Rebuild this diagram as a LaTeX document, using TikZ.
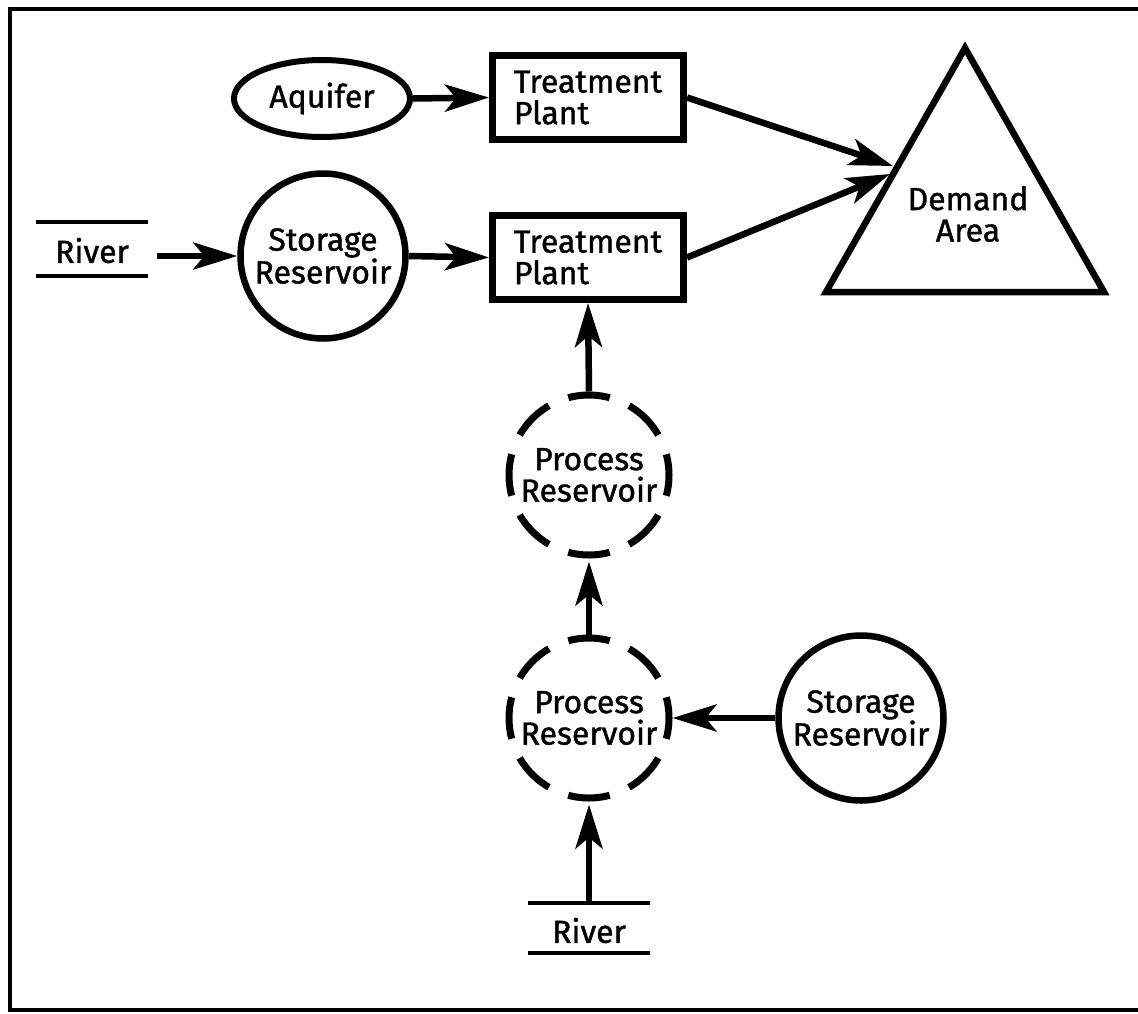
\documentclass[tikz,border=0pt]{standalone}
\usepackage{fontspec}
\setmainfont{Fira Sans}[FakeBold=1.2]
\usetikzlibrary{arrows.meta,shapes.geometric}

\begin{document}
\begin{tikzpicture}[x=1pt,y=-1pt,
  lbl/.style={font=\fontsize{32}{31.5}\selectfont, inner sep=0pt},
  flow/.style={line width=6.5pt, -{Stealth[length=44pt,width=27pt,inset=11pt]}},
  plant/.style={lbl, draw, line width=7pt, rectangle, minimum width=191pt, minimum height=84pt, align=left},
  store/.style={lbl, draw, line width=6.5pt, circle, minimum size=165pt, align=center},
  process/.style={lbl, circle, draw, line width=7pt, minimum size=160pt, align=center,
    dash pattern=on 41.9pt off 20.93pt, dash phase=20.95pt},
  source/.style={lbl, draw, ellipse, line width=6pt, minimum width=176pt, minimum height=77pt},
  river/.style={lbl, rectangle},
  riverline/.style={line width=4pt},
  frame/.style={line width=4pt},
]
\useasboundingbox (0,0) rectangle (1138,1013);

% outer frame (open on the right)
\coordinate (f1) at (1150,9);
\coordinate (f2) at (10,9);
\coordinate (f3) at (10,1010);
\coordinate (f4) at (1150,1010);
\draw[frame] (f1) -- (f2) -- (f3) -- (f4);

% supply and treatment
\node[source] (aq) at (322,98.5) {Aquifer};
\node[plant] (tp1) at (588,97.5) {Treatment\\Plant};
\node[plant] (tp2) at (588,257.5) {Treatment\\Plant};
\node[store] (s1) at (323,256) {Storage\\Reservoir};
\node[river, minimum width=112pt, minimum height=54pt, text height=28pt] (rl) at (92,249) {River};

% process chain
\node[process] (p1) at (589,475) {Process\\Reservoir};
\node[process] (p2) at (589,718) {Process\\Reservoir};
\node[store] (s2) at (861,718) {Storage\\Reservoir};
\node[river, minimum width=122pt, minimum height=50pt, text height=30pt] (rb) at (589,928) {River};

% demand area
\coordinate (da) at (965,48);
\coordinate (dl) at (826,292);
\coordinate (dr) at (1104,292);
\draw[line width=6.5pt, line join=miter] (da) -- (dl) -- (dr) -- cycle;
\node[lbl, align=center] (dem) at (968,214) {Demand\\Area};
\coordinate (d1) at (893,166);
\coordinate (d2) at (890,174);

% river banks
\draw[riverline] (rl.north west) -- (rl.north east);
\draw[riverline] (rl.south west) -- (rl.south east);
\draw[riverline] (rb.north west) -- (rb.north east);
\draw[riverline] (rb.south west) -- (rb.south east);

% flows
\draw[flow] (aq.east) -- (tp1.west);
\draw[flow, shorten <=9pt] (rl.east |- s1.west) -- (s1.west);
\draw[flow] (s1.east) -- (tp2.west);
\draw[flow] (tp1.east) -- (d1);
\draw[flow] (tp2.east) -- (d2);
\draw[flow] (p1.north) -- (tp2.south);
\draw[flow, shorten >=3pt] (p2.north) -- (p1.south);
\draw[flow] (s2.west) -- (p2.east);
\draw[flow, shorten >=3pt] (rb.north) -- (p2.south);
\end{tikzpicture}
\end{document}
